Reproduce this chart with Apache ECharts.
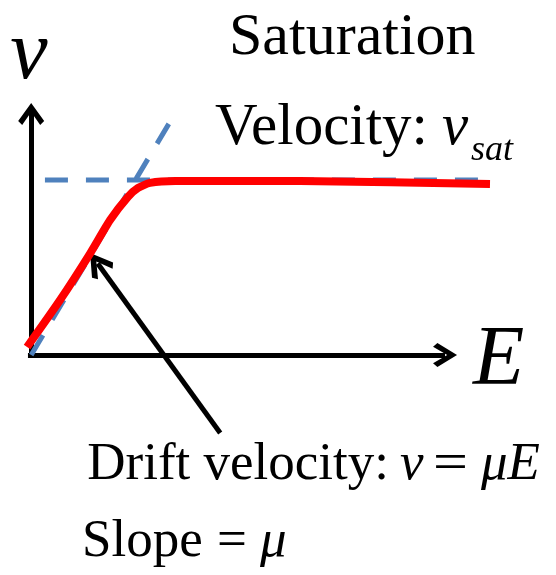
<!DOCTYPE html>
<html>
<head>
<meta charset="utf-8">
<title>Drift velocity</title>
<script src="https://cdn.jsdelivr.net/npm/echarts@6/dist/echarts.min.js"></script>
<style>
  html, body { margin: 0; padding: 0; background: #fff; }
  #main { width: 556px; height: 575px; }
</style>
</head>
<body>
<div id="main"></div>
<script>
// red curve: drift velocity vs field (arbitrary units)
var redE = [-0.09, 0.63, 1.29, 1.72, 2.11, 2.33, 2.59, 3.14, 5.86, 10.0];
var redV = [0.33, 2.28, 4.23, 5.60, 6.56, 6.93, 7.14, 7.22, 7.22, 7.10];

// dashed guides: saturation level and initial slope
var satE = [0.3, 10.0];
var satV = [7.26, 7.26];
var slopeE = [0, 3.09];
var slopeV = [0, 9.88];

// E axis arrow, and pointer from the label to the linear part
var eAxisE = [-0.07, 9.02];
var eAxisV = [0, 0];
var pointerE = [4.12, 1.45];
var pointerV = [-3.24, 3.80];

var serif = '"Liberation Serif", "Times New Roman", serif';
var blue = '#4F81BD';
// open arrow head, tip at the top
var chevron = 'path://M13,0L26,18L22,22L13,9L4,22L0,18Z';

function zip(xs, ys) {
  var out = [];
  for (var i = 0; i < xs.length; i++) out.push([xs[i], ys[i]]);
  return out;
}

function txt(str, x, y, size, italic, align, sx) {
  return {
    type: 'text',
    x: x,
    y: y,
    scaleX: sx || 1,
    silent: true,
    style: {
      text: str,
      fontFamily: serif,
      fontSize: size,
      fontStyle: italic ? 'italic' : 'normal',
      fill: '#000',
      align: align || 'left',
      verticalAlign: 'middle'
    }
  };
}

function arrow(name, xs, ys, size) {
  return {
    name: name,
    type: 'lines',
    coordinateSystem: 'cartesian2d',
    clip: false,
    silent: true,
    symbol: ['none', chevron],
    symbolSize: size,
    lineStyle: { color: '#000', width: 5, opacity: 1 },
    data: [{ coords: zip(xs, ys) }]
  };
}

var chart = echarts.init(document.getElementById('main'), null, { renderer: 'canvas' });

var option = {
  backgroundColor: '#fff',
  animation: false,
  grid: { left: 22, top: 114, right: 66, bottom: 220, containLabel: false },
  xAxis: {
    type: 'value',
    min: -0.2,
    max: 10,
    axisLine: { show: false },
    axisTick: { show: false },
    axisLabel: { show: false },
    splitLine: { show: false }
  },
  yAxis: {
    type: 'value',
    min: 0,
    max: 10,
    axisLine: {
      show: true,
      onZero: true,
      symbol: ['none', chevron],
      symbolSize: [26, 24],
      lineStyle: { color: '#000', width: 5, cap: 'square' }
    },
    axisTick: { show: false },
    axisLabel: { show: false },
    splitLine: { show: false }
  },
  series: [
    {
      name: 'vsat',
      type: 'line',
      data: zip(satE, satV),
      symbol: 'none',
      clip: false,
      silent: true,
      lineStyle: { color: blue, width: 5, type: [23, 18] }
    },
    {
      name: 'slope',
      type: 'line',
      data: zip(slopeE, slopeV),
      symbol: 'none',
      clip: false,
      silent: true,
      lineStyle: { color: blue, width: 5, type: [23, 18] }
    },
    {
      name: 'drift',
      type: 'line',
      data: zip(redE, redV),
      symbol: 'none',
      smooth: 0.2,
      clip: false,
      silent: true,
      lineStyle: { color: '#FF0000', width: 8 }
    },
    arrow('E axis', eAxisE, eAxisV, [26, 24]),
    arrow('pointer', pointerE, pointerV, [30, 26])
  ],
  graphic: [
    txt('v', 29, 56, 84, true, 'center'),
    txt('Saturation', 229, 38, 60),
    txt('Velocity:', 215, 128, 59),
    txt('v', 442, 128, 59, true),
    txt('sat', 471, 151, 36, true),
    txt('E', 473, 362, 84, true),
    txt('Drift velocity:', 389, 465, 53, false, 'right'),
    txt('v', 400, 465, 53, true),
    txt('=', 433, 465, 53, false, 'left', 1.17),
    txt('μE', 481, 465, 53, true),
    txt('Slope', 82, 542, 53),
    txt('=', 217, 542, 53),
    txt('μ', 260, 542, 53, true)
  ]
};

chart.setOption(option);
</script>
</body>
</html>
